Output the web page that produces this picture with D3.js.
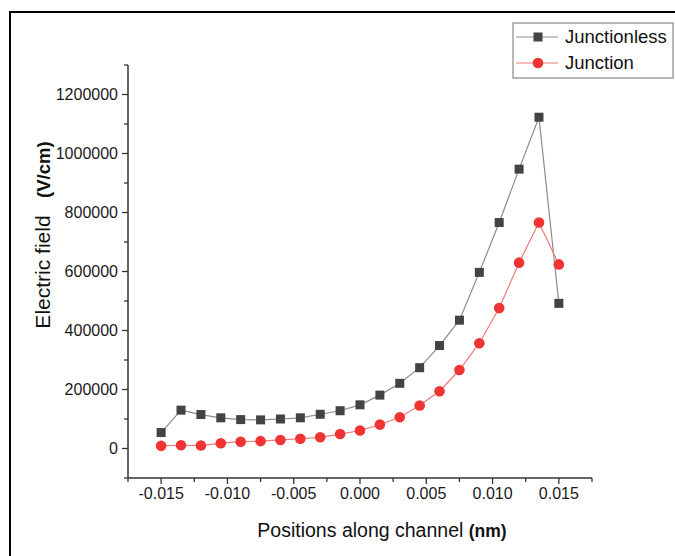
<!DOCTYPE html>
<html>
<head>
<meta charset="utf-8">
<script src="https://cdn.jsdelivr.net/npm/d3@7"></script>
<style>
  body { margin: 0; background: #fff; }
  svg { display: block; font-family: "Liberation Sans", Arial, sans-serif; }
</style>
</head>
<body>
<div id="chart"></div>
<script>
// positions along channel
const positions = [-0.015, -0.0135, -0.012, -0.0105, -0.009, -0.0075, -0.006, -0.0045, -0.003, -0.0015,
  0, 0.0015, 0.003, 0.0045, 0.006, 0.0075, 0.009, 0.0105, 0.012, 0.0135, 0.015];
const junctionless = [54000, 130000, 115000, 104000, 98000, 97000, 100000, 104000, 116000, 128000,
  148000, 181000, 221000, 274000, 349000, 435000, 597000, 766000, 947000, 1123000, 492000];
const junction = [9000, 11000, 10000, 18000, 23000, 25000, 29000, 33000, 38000, 49000,
  61000, 81000, 106000, 146000, 194000, 266000, 357000, 476000, 630000, 766000, 624000];
const xTicks = [-0.015, -0.01, -0.005, 0, 0.005, 0.01, 0.015];
const yTicks = [0, 200000, 400000, 600000, 800000, 1000000, 1200000];

const W = 675, H = 556;
const plot = { left: 128, right: 592, top: 65, bottom: 478 };

const svg = d3.select("#chart").append("svg")
  .attr("width", W).attr("height", H);

// outer frame (right and bottom edges fall outside the picture)
svg.append("rect")
  .attr("x", 10).attr("y", 12).attr("width", 720).attr("height", 600)
  .attr("fill", "none").attr("stroke", "#000").attr("stroke-width", 2);

const x = d3.scaleLinear().domain([-0.0175, 0.0175]).range([plot.left, plot.right]);
const y = d3.scaleLinear().domain([-100000, 1300000]).range([plot.bottom, plot.top]);

// minor ticks
const xMinor = d3.range(-0.0175, 0.0176, 0.005);
const yMinor = d3.range(-100000, 1300001, 200000);

const xAxis = svg.append("g").attr("transform", `translate(0,${plot.bottom})`);
xAxis.append("line").attr("x1", plot.left).attr("x2", plot.right)
  .attr("stroke", "#333").attr("stroke-width", 1.5);
xAxis.selectAll(".minor").data(xMinor).join("line")
  .attr("x1", d => x(d)).attr("x2", d => x(d)).attr("y1", 0).attr("y2", 4)
  .attr("stroke", "#333").attr("stroke-width", 1.3);
xAxis.selectAll(".major").data(xTicks).join("line")
  .attr("x1", d => x(d)).attr("x2", d => x(d)).attr("y1", 0).attr("y2", 6)
  .attr("stroke", "#333").attr("stroke-width", 1.3);
xAxis.selectAll("text").data(xTicks).join("text")
  .attr("x", d => x(d)).attr("y", 21)
  .attr("text-anchor", "middle").attr("font-size", 16).attr("fill", "#1a1a1a")
  .text(d => d3.format(".3f")(d).replace("−", "-"));

const yAxis = svg.append("g").attr("transform", `translate(${plot.left},0)`);
yAxis.append("line").attr("y1", plot.top).attr("y2", plot.bottom)
  .attr("stroke", "#333").attr("stroke-width", 1.5);
yAxis.selectAll(".minor").data(yMinor).join("line")
  .attr("y1", d => y(d)).attr("y2", d => y(d)).attr("x1", 0).attr("x2", -4)
  .attr("stroke", "#333").attr("stroke-width", 1.3);
yAxis.selectAll(".major").data(yTicks).join("line")
  .attr("y1", d => y(d)).attr("y2", d => y(d)).attr("x1", 0).attr("x2", -6)
  .attr("stroke", "#333").attr("stroke-width", 1.3);
yAxis.selectAll("text").data(yTicks).join("text")
  .attr("x", -10).attr("y", d => y(d)).attr("dy", "0.35em")
  .attr("text-anchor", "end").attr("font-size", 16).attr("fill", "#1a1a1a")
  .text(d => d);

// axis titles
const xt = svg.append("text").attr("x", 382).attr("y", 537)
  .attr("text-anchor", "middle").attr("font-size", 19.5).attr("fill", "#111");
xt.append("tspan").text("Positions along channel ");
xt.append("tspan").attr("font-weight", "bold").attr("font-size", 17.5).text("(nm)");

const yt = svg.append("text")
  .attr("transform", "translate(50,235) rotate(-90)")
  .attr("text-anchor", "middle").attr("font-size", 21).attr("fill", "#111")
  .style("white-space", "pre");
yt.append("tspan").text("Electric field   ");
yt.append("tspan").attr("font-weight", "bold").attr("font-size", 18.5).text("(V/cm)");

// series
const series = [
  { name: "Junctionless", values: junctionless, line: "#8c8c8c", fill: "#434343", shape: "square" },
  { name: "Junction", values: junction, line: "#f27a7a", fill: "#ef3434", shape: "circle" }
];

const line = d3.line().x(d => x(d[0])).y(d => y(d[1]));

series.forEach(s => {
  const pts = positions.map((p, i) => [p, s.values[i]]);
  svg.append("path").attr("d", line(pts))
    .attr("fill", "none").attr("stroke", s.line).attr("stroke-width", 1.2);
  if (s.shape === "square") {
    svg.append("g").selectAll("rect").data(pts).join("rect")
      .attr("x", d => x(d[0]) - 4.5).attr("y", d => y(d[1]) - 4.5)
      .attr("width", 9).attr("height", 9).attr("fill", s.fill);
  } else {
    svg.append("g").selectAll("circle").data(pts).join("circle")
      .attr("cx", d => x(d[0])).attr("cy", d => y(d[1])).attr("r", 5.3)
      .attr("fill", s.fill);
  }
});

// legend
const lg = svg.append("g");
lg.append("rect").attr("x", 513).attr("y", 23).attr("width", 160).attr("height", 55)
  .attr("fill", "#fff").attr("stroke", "#888").attr("stroke-width", 1.2);
series.forEach((s, i) => {
  const cy = 37 + i * 26;
  lg.append("line").attr("x1", 516).attr("x2", 558).attr("y1", cy).attr("y2", cy)
    .attr("stroke", s.line).attr("stroke-width", 1.2);
  if (s.shape === "square") {
    lg.append("rect").attr("x", 538 - 4.5).attr("y", cy - 4.5).attr("width", 9).attr("height", 9)
      .attr("fill", s.fill);
  } else {
    lg.append("circle").attr("cx", 538).attr("cy", cy).attr("r", 5.3).attr("fill", s.fill);
  }
  lg.append("text").attr("x", 565).attr("y", cy).attr("dy", "0.35em")
    .attr("font-size", 18.5).attr("fill", "#111").text(s.name);
});
</script>
</body>
</html>
